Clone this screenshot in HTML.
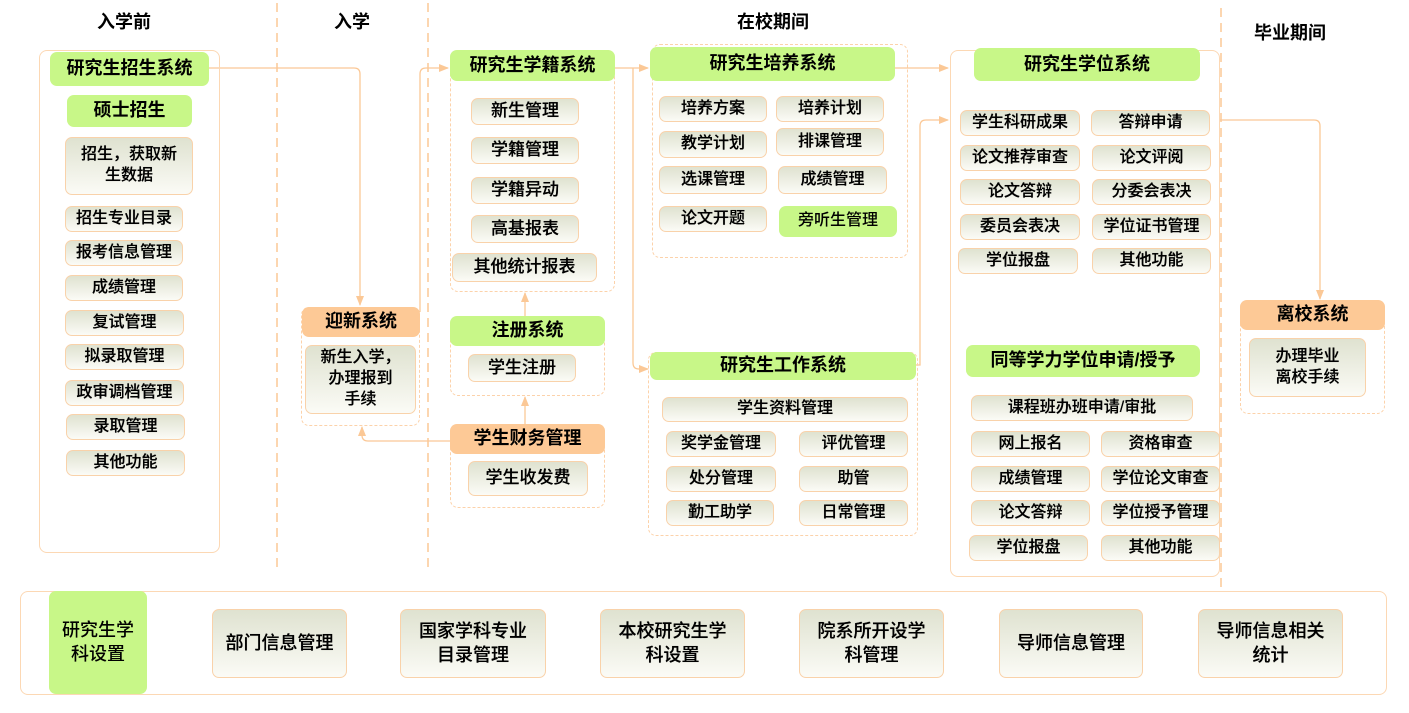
<!DOCTYPE html>
<html><head><meta charset="utf-8">
<style>
body{margin:0;width:1409px;height:713px;background:#fff;position:relative;overflow:hidden;font-family:"Liberation Sans","Noto Sans CJK SC",sans-serif;color:#000;}
.a{position:absolute;box-sizing:border-box;display:flex;align-items:center;justify-content:center;text-align:center;line-height:1.3;}
.g{background:#c8f788;border-radius:7px;font-size:18px;font-weight:bold;}
.o{background:#fdc996;border-radius:7px;font-size:18px;font-weight:bold;}
.i{background:linear-gradient(#dfe2d0,#fbfbf6);border:1.5px solid #f9d2aa;border-radius:7px;font-size:16px;font-weight:500;text-shadow:0 0 0.4px #000;}
.dc{position:absolute;box-sizing:border-box;border:1.5px dashed #fcd2aa;border-radius:8px;}
.sc{position:absolute;box-sizing:border-box;border:1.5px solid #fcd8b4;border-radius:8px;}
.h{position:absolute;font-size:18px;font-weight:bold;transform:translateX(-50%);}
</style></head><body>
<div class="h" style="left:124px;top:8px">入学前</div>
<div class="h" style="left:352px;top:8px">入学</div>
<div class="h" style="left:773px;top:8px">在校期间</div>
<div class="h" style="left:1290px;top:19px">毕业期间</div>

<svg style="position:absolute;left:0;top:0" width="1409" height="713">
<defs><marker id="ar" markerWidth="10" markerHeight="10" refX="9" refY="5" orient="auto" markerUnits="userSpaceOnUse"><path d="M0,1 L10,5 L0,9 z" fill="#fbc896"/></marker></defs>
<g stroke="#fcc896" stroke-width="1.5" stroke-dasharray="9,6" fill="none">
<line x1="277" y1="3" x2="277" y2="572"/>
<line x1="428" y1="3" x2="428" y2="572"/>
<line x1="1221" y1="8" x2="1221" y2="592"/>
</g>
<g stroke="#fbc896" stroke-width="1.3" fill="none">
<path d="M209,68 H354 Q360,68 360,74 V305" marker-end="url(#ar)"/>
<path d="M420,312 V74 Q420,68 426,68 H448" marker-end="url(#ar)"/>
<path d="M615,68 H648" marker-end="url(#ar)"/>
<path d="M633,68 V363 Q633,369 639,369 H648" marker-end="url(#ar)"/>
<path d="M525,316 V293" marker-end="url(#ar)"/>
<path d="M525,424 V397" marker-end="url(#ar)"/>
<path d="M450,441 H368 Q362,441 362,435 V427" marker-end="url(#ar)"/>
<path d="M895,68 H948" marker-end="url(#ar)"/>
<path d="M916,365 H920 V126 Q920,120 926,120 H948" marker-end="url(#ar)"/>
<path d="M1220,120 H1314 Q1320,120 1320,126 V299" marker-end="url(#ar)"/>
</g>
</svg>

<div class="sc" style="left:39px;top:50px;width:181px;height:503px"></div>
<div class="a g" style="left:50px;top:52px;width:159px;height:34px">研究生招生系统</div>
<div class="a g" style="left:67px;top:95px;width:125px;height:32px">硕士招生</div>
<div class="a i" style="left:65px;top:137px;width:128px;height:58px">招生，获取新<br>生数据</div>
<div class="a i" style="left:65px;top:206px;width:118px;height:26px">招生专业目录</div>
<div class="a i" style="left:65px;top:240px;width:118px;height:26px">报考信息管理</div>
<div class="a i" style="left:65px;top:275px;width:118px;height:26px">成绩管理</div>
<div class="a i" style="left:65px;top:310px;width:119px;height:26px">复试管理</div>
<div class="a i" style="left:65px;top:344px;width:119px;height:26px">拟录取管理</div>
<div class="a i" style="left:65px;top:380px;width:119px;height:26px">政审调档管理</div>
<div class="a i" style="left:66px;top:414px;width:119px;height:26px">录取管理</div>
<div class="a i" style="left:66px;top:450px;width:119px;height:26px">其他功能</div>

<div class="dc" style="left:301px;top:307px;width:119px;height:119px"></div>
<div class="a o" style="left:302px;top:307px;width:118px;height:30px">迎新系统</div>
<div class="a i" style="left:305px;top:345px;width:111px;height:69px">新生入学，<br>办理报到<br>手续</div>

<div class="dc" style="left:450px;top:50px;width:165px;height:242px"></div>
<div class="a g" style="left:450px;top:50px;width:165px;height:31px">研究生学籍系统</div>
<div class="a i" style="left:471px;top:98px;width:108px;height:27px;font-size:17px">新生管理</div>
<div class="a i" style="left:471px;top:137px;width:108px;height:27px;font-size:17px">学籍管理</div>
<div class="a i" style="left:471px;top:177px;width:108px;height:27px;font-size:17px">学籍异动</div>
<div class="a i" style="left:471px;top:215px;width:108px;height:28px;font-size:17px">高基报表</div>
<div class="a i" style="left:452px;top:253px;width:145px;height:29px;font-size:17px">其他统计报表</div>

<div class="dc" style="left:450px;top:316px;width:155px;height:80px"></div>
<div class="a g" style="left:450px;top:316px;width:155px;height:30px">注册系统</div>
<div class="a i" style="left:468px;top:354px;width:108px;height:28px;font-size:17px">学生注册</div>

<div class="dc" style="left:450px;top:424px;width:155px;height:84px"></div>
<div class="a o" style="left:450px;top:424px;width:155px;height:30px">学生财务管理</div>
<div class="a i" style="left:468px;top:461px;width:120px;height:35px;font-size:17px">学生收发费</div>

<div class="dc" style="left:652px;top:44px;width:256px;height:214px"></div>
<div class="a g" style="left:650px;top:47px;width:245px;height:34px">研究生培养系统</div>
<div class="a i" style="left:659px;top:96px;width:108px;height:26px">培养方案</div>
<div class="a i" style="left:776px;top:96px;width:108px;height:26px">培养计划</div>
<div class="a i" style="left:659px;top:131px;width:108px;height:27px">教学计划</div>
<div class="a i" style="left:776px;top:128px;width:108px;height:28px">排课管理</div>
<div class="a i" style="left:659px;top:166px;width:108px;height:28px">选课管理</div>
<div class="a i" style="left:778px;top:166px;width:109px;height:28px">成绩管理</div>
<div class="a i" style="left:659px;top:206px;width:108px;height:26px">论文开题</div>
<div class="a g" style="left:779px;top:206px;width:118px;height:31px;font-size:16px;font-weight:500">旁听生管理</div>

<div class="dc" style="left:648px;top:352px;width:270px;height:184px"></div>
<div class="a g" style="left:650px;top:352px;width:266px;height:28px">研究生工作系统</div>
<div class="a i" style="left:662px;top:397px;width:246px;height:25px">学生资料管理</div>
<div class="a i" style="left:666px;top:431px;width:110px;height:26px">奖学金管理</div>
<div class="a i" style="left:799px;top:431px;width:109px;height:26px">评优管理</div>
<div class="a i" style="left:666px;top:466px;width:110px;height:26px">处分管理</div>
<div class="a i" style="left:799px;top:466px;width:109px;height:26px">助管</div>
<div class="a i" style="left:666px;top:500px;width:108px;height:26px">勤工助学</div>
<div class="a i" style="left:799px;top:500px;width:109px;height:26px">日常管理</div>

<div class="sc" style="left:950px;top:50px;width:270px;height:527px"></div>
<div class="a g" style="left:974px;top:48px;width:226px;height:33px">研究生学位系统</div>
<div class="a i" style="left:960px;top:110px;width:120px;height:26px">学生科研成果</div>
<div class="a i" style="left:1091px;top:110px;width:119px;height:26px">答辩申请</div>
<div class="a i" style="left:960px;top:145px;width:120px;height:26px">论文推荐审查</div>
<div class="a i" style="left:1092px;top:145px;width:119px;height:26px">论文评阅</div>
<div class="a i" style="left:960px;top:179px;width:120px;height:26px">论文答辩</div>
<div class="a i" style="left:1092px;top:179px;width:119px;height:26px">分委会表决</div>
<div class="a i" style="left:960px;top:214px;width:120px;height:26px">委员会表决</div>
<div class="a i" style="left:1092px;top:214px;width:119px;height:26px">学位证书管理</div>
<div class="a i" style="left:958px;top:248px;width:120px;height:26px">学位报盘</div>
<div class="a i" style="left:1092px;top:248px;width:119px;height:26px">其他功能</div>

<div class="a g" style="left:966px;top:345px;width:234px;height:32px">同等学力学位申请/授予</div>
<div class="a i" style="left:971px;top:395px;width:222px;height:26px">课程班办班申请/审批</div>
<div class="a i" style="left:971px;top:431px;width:119px;height:26px">网上报名</div>
<div class="a i" style="left:1101px;top:431px;width:119px;height:26px">资格审查</div>
<div class="a i" style="left:971px;top:466px;width:119px;height:26px">成绩管理</div>
<div class="a i" style="left:1101px;top:466px;width:119px;height:26px">学位论文审查</div>
<div class="a i" style="left:971px;top:500px;width:119px;height:26px">论文答辩</div>
<div class="a i" style="left:1101px;top:500px;width:119px;height:26px">学位授予管理</div>
<div class="a i" style="left:969px;top:535px;width:119px;height:26px">学位报盘</div>
<div class="a i" style="left:1101px;top:535px;width:119px;height:26px">其他功能</div>

<div class="dc" style="left:1240px;top:300px;width:145px;height:114px"></div>
<div class="a o" style="left:1240px;top:300px;width:145px;height:30px">离校系统</div>
<div class="a i" style="left:1249px;top:338px;width:117px;height:59px">办理毕业<br>离校手续</div>

<div class="sc" style="left:20px;top:591px;width:1367px;height:104px"></div>
<div class="a g" style="left:49px;top:591px;width:98px;height:103px;font-weight:500">研究生学<br>科设置</div>
<div class="a i" style="left:212px;top:609px;width:135px;height:69px;font-size:18px">部门信息管理</div>
<div class="a i" style="left:400px;top:609px;width:146px;height:69px;font-size:18px">国家学科专业<br>目录管理</div>
<div class="a i" style="left:600px;top:609px;width:145px;height:69px;font-size:18px">本校研究生学<br>科设置</div>
<div class="a i" style="left:799px;top:609px;width:145px;height:69px;font-size:18px">院系所开设学<br>科管理</div>
<div class="a i" style="left:999px;top:609px;width:144px;height:69px;font-size:18px">导师信息管理</div>
<div class="a i" style="left:1198px;top:609px;width:145px;height:69px;font-size:18px">导师信息相关<br>统计</div>
</body></html>
